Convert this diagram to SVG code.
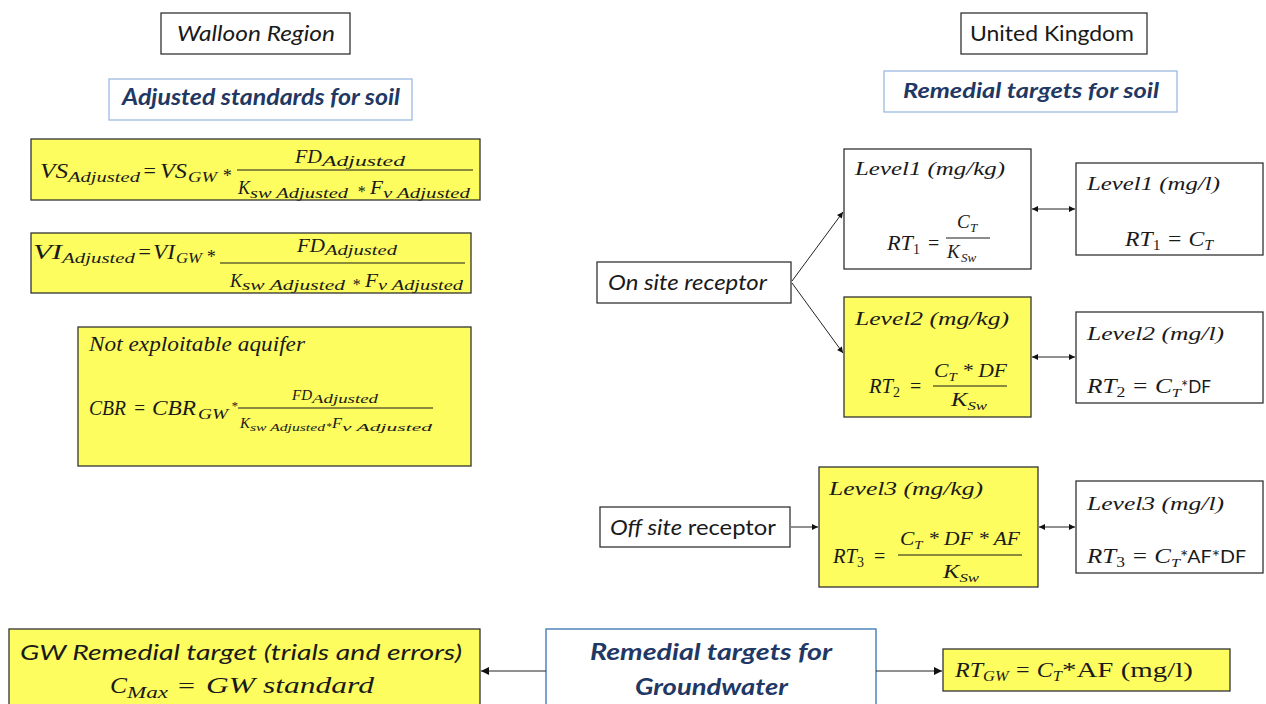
<svg xmlns="http://www.w3.org/2000/svg" width="1266" height="704" viewBox="0 0 1266 704">
  <defs>
    <marker id="ah" viewBox="0 0 10 10" refX="10" refY="5" markerWidth="7" markerHeight="6" markerUnits="userSpaceOnUse" orient="auto-start-reverse">
      <path d="M0,0 L10,5 L0,10 z" fill="#111"/>
    </marker>
    <marker id="ahL" viewBox="0 0 10 10" refX="10" refY="5" markerWidth="9" markerHeight="8" markerUnits="userSpaceOnUse" orient="auto-start-reverse">
      <path d="M0,0 L10,5 L0,10 z" fill="#111"/>
    </marker>
    <style>
      .box { fill: #ffffff; stroke: #333; stroke-width: 1.3; }
      .yel { fill: #fdfd5f; stroke: #333; stroke-width: 1.3; }
      .hbox { fill: #ffffff; stroke: #9dbbe0; stroke-width: 1.3; }
      .gbox { fill: #ffffff; stroke: #4f86bd; stroke-width: 1.5; }
      .m { font-family: "Liberation Serif", serif; font-style: italic; fill: #1a1a1a; }
      .r { font-family: "Liberation Serif", serif; font-style: normal; fill: #1a1a1a; }
      .s { font-family: Lato, "Liberation Sans", sans-serif; fill: #1a1a1a; }
      .si { font-family: Lato, "Liberation Sans", sans-serif; font-style: italic; fill: #1a1a1a; }
      .h { font-family: Lato, "Liberation Sans", sans-serif; font-style: italic; font-weight: bold; fill: #1f3864; }
      .bar { stroke: #1a1a1a; stroke-width: 1.2; }
      .conn { stroke: #222; stroke-width: 1; fill: none; }
    </style>
  </defs>

  <!-- Walloon side -->
  <g id="walloon-title">
    <rect class="box" x="161" y="13" width="189" height="41"/>
    <text class="si" x="177" y="41" font-size="21" textLength="158" lengthAdjust="spacingAndGlyphs">Walloon Region</text>
  </g>

  <g id="adjusted-standards">
    <rect class="hbox" x="109" y="79" width="303" height="41"/>
    <text class="h" x="122" y="105" font-size="22" textLength="278" lengthAdjust="spacingAndGlyphs">Adjusted standards for soil</text>
  </g>

  <g id="vs-formula">
    <rect class="yel" x="31" y="139" width="449" height="61"/>
    <text class="m" x="40" y="178" font-size="22" textLength="28" lengthAdjust="spacingAndGlyphs">VS</text>
    <text class="m" x="68" y="182" font-size="15" textLength="72" lengthAdjust="spacingAndGlyphs">Adjusted</text>
    <text class="m" x="142" y="178" font-size="22" textLength="15" lengthAdjust="spacingAndGlyphs">=</text>
    <text class="m" x="160" y="178" font-size="22" textLength="27" lengthAdjust="spacingAndGlyphs">VS</text>
    <text class="m" x="188" y="182" font-size="15" textLength="29" lengthAdjust="spacingAndGlyphs">GW</text>
    <text class="m" x="222" y="182" font-size="18">*</text>
    <text class="m" x="295" y="163" font-size="18" textLength="27" lengthAdjust="spacingAndGlyphs">FD</text>
    <text class="m" x="322" y="166" font-size="14" textLength="83" lengthAdjust="spacingAndGlyphs">Adjusted</text>
    <line class="bar" x1="237" y1="170" x2="473" y2="170"/>
    <text class="m" x="238" y="194" font-size="18" textLength="12" lengthAdjust="spacingAndGlyphs">K</text>
    <text class="m" x="250" y="198" font-size="14" textLength="98" lengthAdjust="spacingAndGlyphs">sw Adjusted</text>
    <text class="m" x="357" y="197" font-size="16">*</text>
    <text class="m" x="370" y="194" font-size="18" textLength="13" lengthAdjust="spacingAndGlyphs">F</text>
    <text class="m" x="383" y="198" font-size="14" textLength="87" lengthAdjust="spacingAndGlyphs">v Adjusted</text>
  </g>

  <g id="vi-formula">
    <rect class="yel" x="31" y="233" width="440" height="60"/>
    <text class="m" x="33" y="259" font-size="22" textLength="29" lengthAdjust="spacingAndGlyphs">VI</text>
    <text class="m" x="62" y="263" font-size="15" textLength="73" lengthAdjust="spacingAndGlyphs">Adjusted</text>
    <text class="m" x="137" y="259" font-size="22" textLength="15" lengthAdjust="spacingAndGlyphs">=</text>
    <text class="m" x="153" y="259" font-size="22" textLength="22" lengthAdjust="spacingAndGlyphs">VI</text>
    <text class="m" x="176" y="263" font-size="15" textLength="26" lengthAdjust="spacingAndGlyphs">GW</text>
    <text class="m" x="206" y="263" font-size="18">*</text>
    <text class="m" x="297" y="252" font-size="18" textLength="28" lengthAdjust="spacingAndGlyphs">FD</text>
    <text class="m" x="325" y="255" font-size="14" textLength="72" lengthAdjust="spacingAndGlyphs">Adjusted</text>
    <line class="bar" x1="220" y1="263" x2="465" y2="263"/>
    <text class="m" x="230" y="287" font-size="18" textLength="12" lengthAdjust="spacingAndGlyphs">K</text>
    <text class="m" x="242" y="290" font-size="14" textLength="103" lengthAdjust="spacingAndGlyphs">sw Adjusted</text>
    <text class="m" x="352" y="290" font-size="16">*</text>
    <text class="m" x="365" y="287" font-size="18" textLength="13" lengthAdjust="spacingAndGlyphs">F</text>
    <text class="m" x="378" y="290" font-size="14" textLength="85" lengthAdjust="spacingAndGlyphs">v Adjusted</text>
  </g>

  <g id="cbr-formula">
    <rect class="yel" x="78" y="327" width="393" height="139"/>
    <text class="m" x="89" y="351" font-size="20" textLength="216" lengthAdjust="spacingAndGlyphs">Not exploitable aquifer</text>
    <text class="m" x="89" y="415" font-size="21" textLength="37" lengthAdjust="spacingAndGlyphs">CBR</text>
    <text class="m" x="133" y="415" font-size="21" textLength="13" lengthAdjust="spacingAndGlyphs">=</text>
    <text class="m" x="152" y="415" font-size="21" textLength="44" lengthAdjust="spacingAndGlyphs">CBR</text>
    <text class="m" x="198" y="419" font-size="15" textLength="30" lengthAdjust="spacingAndGlyphs">GW</text>
    <text class="m" x="231" y="410" font-size="13">*</text>
    <text class="m" x="292" y="400" font-size="14" textLength="20" lengthAdjust="spacingAndGlyphs">FD</text>
    <text class="m" x="312" y="403" font-size="12" textLength="66" lengthAdjust="spacingAndGlyphs">Adjusted</text>
    <line class="bar" x1="238" y1="408" x2="433" y2="408"/>
    <text class="m" x="240" y="428" font-size="14" textLength="10" lengthAdjust="spacingAndGlyphs">K</text>
    <text class="m" x="250" y="431" font-size="11" textLength="75" lengthAdjust="spacingAndGlyphs">sw Adjusted</text>
    <text class="m" x="326" y="430" font-size="11">*</text>
    <text class="m" x="332" y="428" font-size="14" textLength="10" lengthAdjust="spacingAndGlyphs">F</text>
    <text class="m" x="342" y="431" font-size="11" textLength="90" lengthAdjust="spacingAndGlyphs">v Adjusted</text>
  </g>

  <!-- United Kingdom side -->
  <g id="uk-title">
    <rect class="box" x="961" y="13" width="186" height="41"/>
    <text class="s" x="970" y="41" font-size="21" textLength="164" lengthAdjust="spacingAndGlyphs">United Kingdom</text>
  </g>

  <g id="remedial-soil">
    <rect class="hbox" x="884" y="71" width="293" height="41"/>
    <text class="h" x="903" y="98" font-size="21" textLength="256" lengthAdjust="spacingAndGlyphs">Remedial targets for soil</text>
  </g>

  <g id="on-site">
    <rect class="box" x="597" y="262" width="194" height="41"/>
    <text class="si" x="608" y="290" font-size="21" textLength="159" lengthAdjust="spacingAndGlyphs">On site receptor</text>
  </g>

  <g id="off-site">
    <rect class="box" x="600" y="507" width="190" height="40"/>
    <text class="s" x="610" y="535" font-size="21" textLength="166" lengthAdjust="spacingAndGlyphs"><tspan font-style="italic">Off site </tspan>receptor</text>
  </g>

  <g id="level1-soil">
    <rect class="box" x="844" y="149" width="187" height="120"/>
    <text class="m" x="855" y="175" font-size="18" textLength="150" lengthAdjust="spacingAndGlyphs">Level1 (mg/kg)</text>
    <text class="m" x="887" y="250" font-size="20" textLength="26" lengthAdjust="spacingAndGlyphs">RT</text>
    <text class="r" x="913" y="254" font-size="14">1</text>
    <text class="r" x="928" y="250" font-size="20">=</text>
    <line class="bar" x1="946" y1="238" x2="990" y2="238"/>
    <text class="m" x="957" y="228" font-size="19">C</text>
    <text class="m" x="970" y="232" font-size="13">T</text>
    <text class="m" x="947" y="258" font-size="19">K</text>
    <text class="m" x="961" y="262" font-size="13">Sw</text>
  </g>

  <g id="level1-water">
    <rect class="box" x="1076" y="163" width="187" height="92"/>
    <text class="m" x="1087" y="190" font-size="18" textLength="133" lengthAdjust="spacingAndGlyphs">Level1 (mg/l)</text>
    <text class="m" x="1125" y="246" font-size="21" textLength="88" lengthAdjust="spacingAndGlyphs">RT<tspan class="r" font-size="14" dy="4">1</tspan><tspan dy="-4"> = C</tspan><tspan font-size="14" dy="4">T</tspan></text>
  </g>

  <g id="level2-soil">
    <rect class="yel" x="844" y="297" width="187" height="120"/>
    <text class="m" x="855" y="325" font-size="18" textLength="154" lengthAdjust="spacingAndGlyphs">Level2 (mg/kg)</text>
    <text class="m" x="869" y="393" font-size="20" textLength="24" lengthAdjust="spacingAndGlyphs">RT</text>
    <text class="r" x="893" y="397" font-size="14">2</text>
    <text class="r" x="910" y="393" font-size="20">=</text>
    <line class="bar" x1="933" y1="386" x2="1007" y2="386"/>
    <text class="m" x="934" y="377" font-size="19" textLength="73" lengthAdjust="spacingAndGlyphs">C<tspan font-size="13" dy="4">T</tspan><tspan dy="-4"> * DF</tspan></text>
    <text class="m" x="951" y="406" font-size="19" textLength="36" lengthAdjust="spacingAndGlyphs">K<tspan font-size="13" dy="4">Sw</tspan></text>
  </g>

  <g id="level2-water">
    <rect class="box" x="1076" y="312" width="187" height="91"/>
    <text class="m" x="1087" y="340" font-size="18" textLength="137" lengthAdjust="spacingAndGlyphs">Level2 (mg/l)</text>
    <text class="m" x="1087" y="393" font-size="20" textLength="94" lengthAdjust="spacingAndGlyphs">RT<tspan class="r" font-size="14" dy="4">2</tspan><tspan dy="-4"> = C</tspan><tspan font-size="13" dy="4">T</tspan></text>
    <text class="s" x="1181" y="393" font-size="17" textLength="30" lengthAdjust="spacingAndGlyphs">*DF</text>
  </g>

  <g id="level3-soil">
    <rect class="yel" x="819" y="467" width="219" height="120"/>
    <text class="m" x="829" y="495" font-size="18" textLength="154" lengthAdjust="spacingAndGlyphs">Level3 (mg/kg)</text>
    <text class="m" x="833" y="563" font-size="20" textLength="24" lengthAdjust="spacingAndGlyphs">RT</text>
    <text class="r" x="857" y="567" font-size="14">3</text>
    <text class="r" x="874" y="563" font-size="20">=</text>
    <line class="bar" x1="898" y1="555" x2="1022" y2="555"/>
    <text class="m" x="900" y="545" font-size="19" textLength="120" lengthAdjust="spacingAndGlyphs">C<tspan font-size="13" dy="4">T</tspan><tspan dy="-4"> * DF * AF</tspan></text>
    <text class="m" x="943" y="578" font-size="19" textLength="36" lengthAdjust="spacingAndGlyphs">K<tspan font-size="13" dy="4">Sw</tspan></text>
  </g>

  <g id="level3-water">
    <rect class="box" x="1076" y="481" width="187" height="92"/>
    <text class="m" x="1087" y="510" font-size="18" textLength="137" lengthAdjust="spacingAndGlyphs">Level3 (mg/l)</text>
    <text class="m" x="1087" y="563" font-size="20" textLength="93" lengthAdjust="spacingAndGlyphs">RT<tspan class="r" font-size="14" dy="4">3</tspan><tspan dy="-4"> = C</tspan><tspan font-size="13" dy="4">T</tspan></text>
    <text class="s" x="1180" y="563" font-size="17" textLength="66" lengthAdjust="spacingAndGlyphs">*AF*DF</text>
  </g>

  <!-- Groundwater row -->
  <g id="gw-target">
    <rect class="yel" x="9" y="629" width="471" height="90"/>
    <text class="si" x="20" y="660" font-size="22" textLength="442" lengthAdjust="spacingAndGlyphs">GW Remedial target (trials and errors)</text>
    <text class="m" x="110" y="693" font-size="24" textLength="17" lengthAdjust="spacingAndGlyphs">C</text>
    <text class="m" x="127" y="698" font-size="16" textLength="41" lengthAdjust="spacingAndGlyphs">Max</text>
    <text class="r" x="178" y="693" font-size="22" textLength="17" lengthAdjust="spacingAndGlyphs">=</text>
    <text class="m" x="206" y="693" font-size="24" textLength="168" lengthAdjust="spacingAndGlyphs">GW standard</text>
  </g>

  <g id="remedial-groundwater">
    <rect class="gbox" x="546" y="629" width="330" height="90"/>
    <text class="h" x="590" y="660" font-size="22" textLength="242" lengthAdjust="spacingAndGlyphs">Remedial targets for</text>
    <text class="h" x="635" y="695" font-size="22" textLength="153" lengthAdjust="spacingAndGlyphs">Groundwater</text>
  </g>

  <g id="rt-gw">
    <rect class="yel" x="943" y="649" width="287" height="42"/>
    <text class="m" x="955" y="677" font-size="22" textLength="107" lengthAdjust="spacingAndGlyphs">RT<tspan font-size="15" dy="4">GW</tspan><tspan dy="-4"> = C</tspan><tspan font-size="15" dy="4">T</tspan></text>
    <text class="r" x="1062" y="677" font-size="22" textLength="131" lengthAdjust="spacingAndGlyphs">*AF (mg/l)</text>
  </g>

  <!-- Connectors -->
  <g id="connectors">
    <line class="conn" x1="792" y1="281" x2="843" y2="212" marker-end="url(#ah)"/>
    <line class="conn" x1="792" y1="283" x2="843" y2="353" marker-end="url(#ah)"/>
    <line class="conn" x1="1032" y1="209" x2="1075" y2="209" marker-start="url(#ah)" marker-end="url(#ah)"/>
    <line class="conn" x1="1032" y1="357" x2="1075" y2="357" marker-start="url(#ah)" marker-end="url(#ah)"/>
    <line class="conn" x1="791" y1="527" x2="818" y2="527" marker-end="url(#ah)"/>
    <line class="conn" x1="1039" y1="527" x2="1075" y2="527" marker-start="url(#ah)" marker-end="url(#ah)"/>
    <line class="conn" x1="546" y1="671" x2="481" y2="671" stroke-width="1.5" marker-end="url(#ahL)"/>
    <line class="conn" x1="876" y1="671" x2="942" y2="671" stroke-width="1.5" marker-end="url(#ahL)"/>
  </g>
</svg>
